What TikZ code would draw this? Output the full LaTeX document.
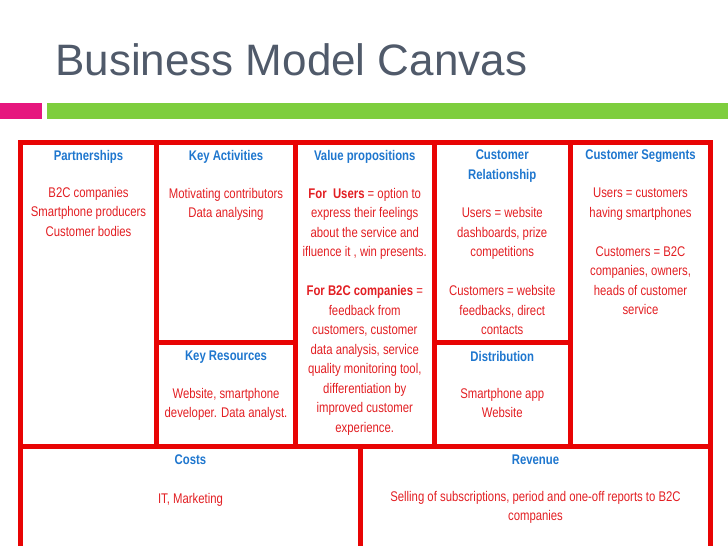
\documentclass[tikz,border=0pt]{standalone}
\usepackage{fontspec}
\setmainfont{Liberation Sans}
\newfontfamily\bmcnarrow[FakeStretch=0.81]{Liberation Sans}
\usetikzlibrary{positioning}
\definecolor{bmcred}{RGB}{232,4,4}
\definecolor{bmcblue}{RGB}{30,118,206}
\definecolor{bmcbody}{RGB}{226,30,34}
\definecolor{bmcgray}{RGB}{80,90,106}
\definecolor{bmcpink}{RGB}{230,22,126}
\definecolor{bmcgreen}{RGB}{126,206,62}
\tikzset{
  bmccell/.style={
    draw=bmcred,
    line width=5pt,
    inner sep=0pt,
    outer sep=0pt,
    anchor=north west
  },
  bmchead/.style={
    text=bmcblue,
    font=\bmcnarrow\bfseries\fontsize{14}{19.5}\selectfont,
    align=center,
    inner sep=0pt,
    anchor=north
  },
  bmctext/.style={
    text=bmcbody,
    font=\bmcnarrow\fontsize{14}{19.5}\selectfont,
    align=center,
    inner sep=0pt,
    anchor=north
  }
}
\newcommand{\bmcbold}[1]{\textbf{#1}}

\begin{document}
\begin{tikzpicture}[x=1pt,y=-1pt]
  \useasboundingbox (0,0) rectangle (728,546);
  % title and bars
  \node[anchor=base west,text=bmcgray,font=\fontsize{44}{50}\selectfont,inner sep=0pt]
    (title) at (55,75) {Business Model Canvas};
  \fill[bmcpink] (0,103) rectangle (42,119);
  \fill[bmcgreen] (47,103) rectangle (728,119);
  % canvas cells
  \node[bmccell,minimum width=136pt,minimum height=304pt] (part) at (20.5,142) {};
  \node[bmccell,minimum width=139pt,minimum height=200pt] (keyact) at (156.5,142) {};
  \node[bmccell,minimum width=139pt,minimum height=104pt] (keyres) at (156.5,342) {};
  \node[bmccell,minimum width=138.5pt,minimum height=304pt] (valprop) at (295.5,142) {};
  \node[bmccell,minimum width=136.5pt,minimum height=200pt] (custrel) at (434,142) {};
  \node[bmccell,minimum width=136.5pt,minimum height=104pt] (distrib) at (434,342) {};
  \node[bmccell,minimum width=140pt,minimum height=304pt] (custseg) at (570.5,142) {};
  \node[bmccell,minimum width=340pt,minimum height=130pt] (costs) at (20.5,446) {};
  \node[bmccell,minimum width=350pt,minimum height=130pt] (revenue) at (360.5,446) {};
  % headings
  \node[bmchead,below=8pt of part.north] (parthd) {Partnerships};
  \node[bmchead,below=8pt of keyact.north] (keyacthd) {Key Activities};
  \node[bmchead,below=8pt of valprop.north] (valprophd) {Value propositions};
  \node[bmchead,below=8pt of custrel.north] (custrelhd) {Customer\\Relationship};
  \node[bmchead,below=8pt of custseg.north] (custseghd) {Customer Segments};
  \node[bmchead,below=9pt of keyres.north] (keyreshd) {Key Resources};
  \node[bmchead,below=9pt of distrib.north] (distribhd) {Distribution};
  \node[bmchead,below=9pt of costs.north] (costshd) {Costs};
  \node[bmchead,below=9pt of revenue.north] (revenuehd) {Revenue};
  % contents
  \node[bmctext,below=45pt of part.north] (parttx)
    {B2C companies\\Smartphone producers\\Customer bodies};
  \node[bmctext,below=46pt of keyact.north] (keyacttx)
    {Motivating contributors\\Data analysing};
  \node[bmctext,below=46pt of valprop.north] (valproptx)
    {\bmcbold{For \ Users} = option to\\express their feelings\\about the service and\\
     ifluence it , win presents.\\[19.5pt]\bmcbold{For B2C companies} =\\feedback from\\
     customers, customer\\data analysis, service\\quality monitoring tool,\\
     differentiation by\\improved customer\\experience.};
  \node[bmctext,below=65.5pt of custrel.north] (custreltx)
    {Users = website\\dashboards, prize\\competitions\\[19.5pt]Customers = website\\
     feedbacks, direct\\contacts};
  \node[bmctext,below=46pt of custseg.north] (custsegtx)
    {Users = customers\\having smartphones\\[19.5pt]Customers = B2C\\companies, owners,\\
     heads of customer\\service};
  \node[bmctext,below=46pt of keyres.north] (keyrestx)
    {Website, smartphone\\developer. Data analyst.};
  \node[bmctext,below=46pt of distrib.north] (distribtx)
    {Smartphone app\\Website};
  \node[bmctext,below=47pt of costs.north] (coststx) {IT, Marketing};
  \node[bmctext,below=45pt of revenue.north] (revenuetx)
    {Selling of subscriptions, period and one-off reports to B2C\\companies};
\end{tikzpicture}
\end{document}
